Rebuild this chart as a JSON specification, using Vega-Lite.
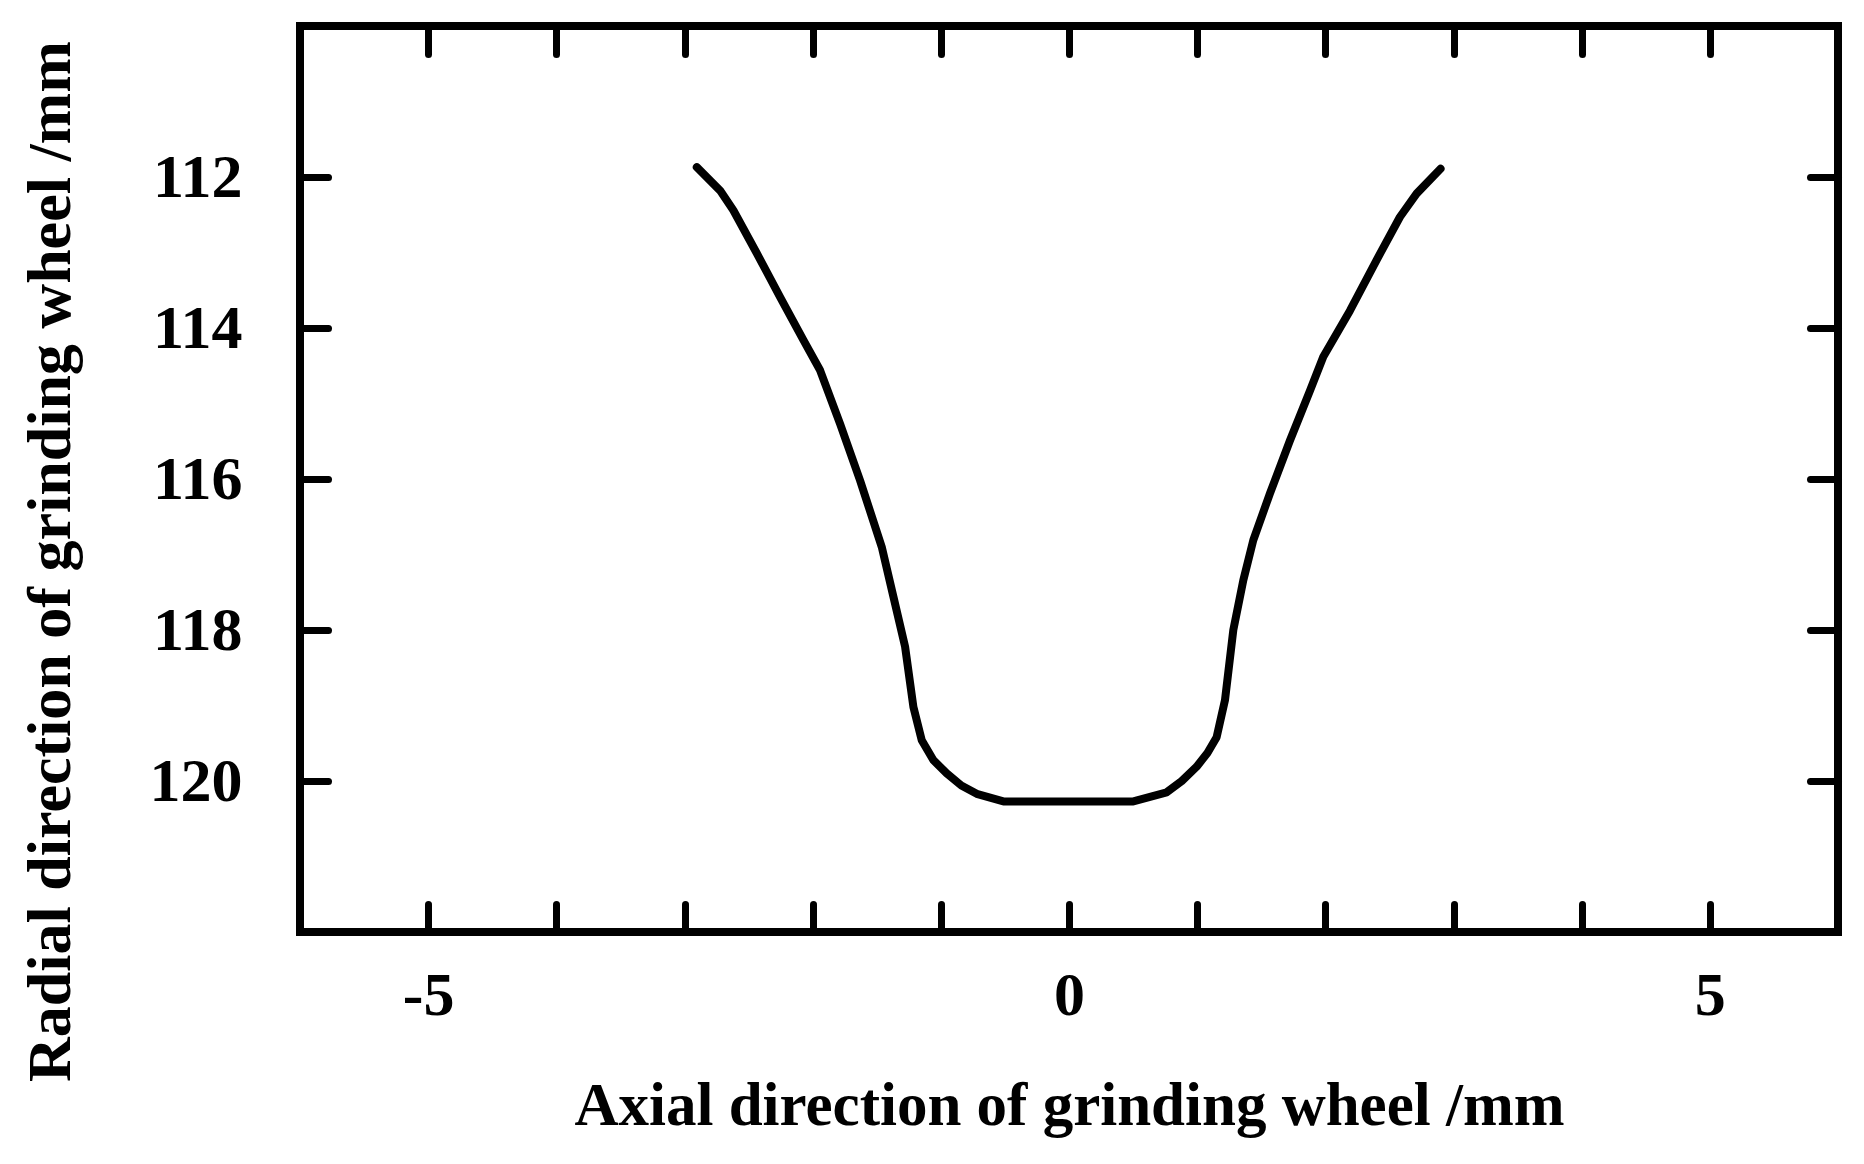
{
  "$schema": "https://vega.github.io/schema/vega-lite/v6.json",
  "width": 1538,
  "height": 906,
  "autosize": {"type": "none"},
  "padding": {"left": 300, "top": 26, "right": 26, "bottom": 232},
  "background": "white",
  "config": {
    "view": {"stroke": "black", "strokeWidth": 8},
    "font": "Liberation Serif"
  },
  "data": {
    "values": [
      {"i": 1, "x": -2.904, "y": 111.87},
      {"i": 2, "x": -2.722, "y": 112.18},
      {"i": 3, "x": -2.619, "y": 112.44},
      {"i": 4, "x": -2.436, "y": 113.01},
      {"i": 5, "x": -2.254, "y": 113.59},
      {"i": 6, "x": -2.072, "y": 114.16},
      {"i": 7, "x": -1.942, "y": 114.56},
      {"i": 8, "x": -1.786, "y": 115.27},
      {"i": 9, "x": -1.630, "y": 116.02},
      {"i": 10, "x": -1.461, "y": 116.90},
      {"i": 11, "x": -1.370, "y": 117.56},
      {"i": 12, "x": -1.279, "y": 118.22},
      {"i": 13, "x": -1.214, "y": 119.02},
      {"i": 14, "x": -1.149, "y": 119.46},
      {"i": 15, "x": -1.060, "y": 119.72},
      {"i": 16, "x": -0.954, "y": 119.90},
      {"i": 17, "x": -0.840, "y": 120.06},
      {"i": 18, "x": -0.720, "y": 120.17},
      {"i": 19, "x": -0.512, "y": 120.27},
      {"i": 20, "x": 0.502, "y": 120.27},
      {"i": 21, "x": 0.762, "y": 120.15},
      {"i": 22, "x": 0.880, "y": 120.00},
      {"i": 23, "x": 0.996, "y": 119.81},
      {"i": 24, "x": 1.080, "y": 119.63},
      {"i": 25, "x": 1.152, "y": 119.42},
      {"i": 26, "x": 1.217, "y": 118.93},
      {"i": 27, "x": 1.282, "y": 118.00},
      {"i": 28, "x": 1.360, "y": 117.34},
      {"i": 29, "x": 1.438, "y": 116.81},
      {"i": 30, "x": 1.568, "y": 116.19},
      {"i": 31, "x": 1.724, "y": 115.49},
      {"i": 32, "x": 1.880, "y": 114.83},
      {"i": 33, "x": 1.984, "y": 114.38},
      {"i": 34, "x": 2.192, "y": 113.77},
      {"i": 35, "x": 2.400, "y": 113.10},
      {"i": 36, "x": 2.582, "y": 112.53},
      {"i": 37, "x": 2.712, "y": 112.22},
      {"i": 38, "x": 2.899, "y": 111.89}
    ]
  },
  "layer": [
    {
      "mark": {"type": "line", "color": "black", "strokeWidth": 8, "strokeCap": "round", "strokeJoin": "round"},
      "encoding": {
        "order": {"field": "i", "type": "quantitative"},
        "x": {
          "field": "x", "type": "quantitative",
          "scale": {"domain": [-6, 6], "nice": false, "zero": false},
          "axis": {
            "orient": "bottom",
            "title": "Axial direction of grinding wheel /mm",
            "values": [-5, -4, -3, -2, -1, 0, 1, 2, 3, 4, 5],
            "labelExpr": "datum.value % 5 === 0 ? '' + datum.value : ''",
            "domain": false, "grid": false,
            "ticks": true, "tickSize": -28, "tickWidth": 7, "tickColor": "black", "tickCap": "round",
            "labelPadding": 61, "labelFont": "Liberation Serif", "labelFontWeight": "bold", "labelFontSize": 62, "labelColor": "black", "labelBaseline": "top", "labelFlush": false,
            "titleFont": "Liberation Serif", "titleFontWeight": "bold", "titleFontSize": 61, "titleColor": "black",
            "titleBaseline": "alphabetic", "titleY": 192
          }
        },
        "y": {
          "field": "y", "type": "quantitative",
          "scale": {"domain": [110, 122], "nice": false, "zero": false, "reverse": true},
          "axis": {
            "orient": "left",
            "title": "Radial direction of grinding wheel /mm",
            "values": [112, 114, 116, 118, 120],
            "domain": false, "grid": false,
            "ticks": true, "tickSize": -28, "tickWidth": 7, "tickColor": "black", "tickCap": "round",
            "labelPadding": 86, "labelFont": "Liberation Serif", "labelFontWeight": "bold", "labelFontSize": 62, "labelColor": "black", "labelBaseline": "middle", "labelFlush": false,
            "titleFont": "Liberation Serif", "titleFontWeight": "bold", "titleFontSize": 62, "titleColor": "black",
            "titleBaseline": "alphabetic", "titleAngle": -90, "titleX": -231, "titleY": 535
          }
        }
      }
    },
    {
      "mark": {"type": "line", "opacity": 0},
      "encoding": {
        "order": {"field": "i", "type": "quantitative"},
        "x": {
          "field": "x", "type": "quantitative",
          "scale": {"domain": [-6, 6], "nice": false, "zero": false},
          "axis": {
            "orient": "top", "title": null, "labels": false,
            "values": [-5, -4, -3, -2, -1, 0, 1, 2, 3, 4, 5],
            "domain": false, "grid": false,
            "ticks": true, "tickSize": -28, "tickWidth": 7, "tickColor": "black", "tickCap": "round"
          }
        },
        "y": {
          "field": "y", "type": "quantitative",
          "scale": {"domain": [110, 122], "nice": false, "zero": false, "reverse": true},
          "axis": {
            "orient": "right", "title": null, "labels": false,
            "values": [112, 114, 116, 118, 120],
            "domain": false, "grid": false,
            "ticks": true, "tickSize": -28, "tickWidth": 7, "tickColor": "black", "tickCap": "round"
          }
        }
      }
    }
  ],
  "resolve": {"axis": {"x": "independent", "y": "independent"}}
}
